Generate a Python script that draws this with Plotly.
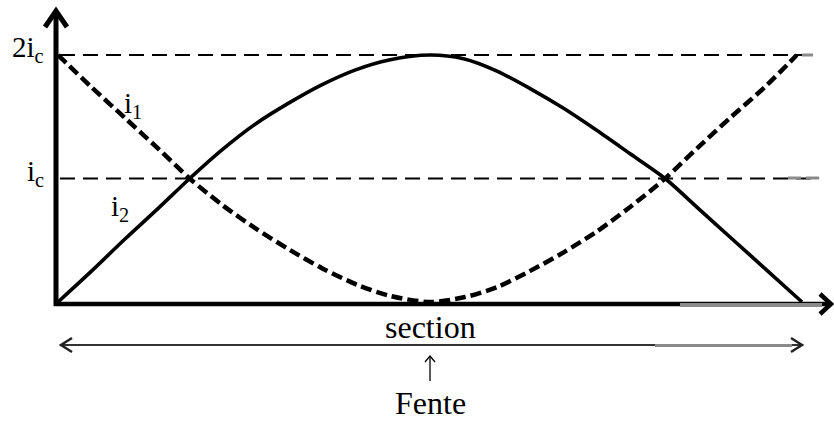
import plotly.graph_objects as go

# Normalised position along the section (0 = left edge, 1 = right edge)
x_i1 = [0.0, 0.045, 0.090, 0.135, 0.177, 0.222, 0.267, 0.312, 0.356, 0.402,
        0.446, 0.500, 0.547, 0.590, 0.634, 0.679, 0.724, 0.769, 0.816, 0.860,
        0.905, 0.950, 0.993]
# Current i1 in units of ic
i1 = [2.00, 1.74, 1.49, 1.24, 1.00, 0.78, 0.59, 0.42, 0.27, 0.14,
      0.05, 0.00, 0.04, 0.12, 0.25, 0.40, 0.57, 0.77, 1.00, 1.25,
      1.50, 1.74, 2.00]

x_i2 = [0.0, 0.045, 0.090, 0.135, 0.177, 0.220, 0.265, 0.310, 0.355, 0.400,
        0.445, 0.500, 0.545, 0.590, 0.634, 0.679, 0.724, 0.769, 0.816, 0.862,
        0.908, 0.954, 1.0]
# Current i2 in units of ic
i2 = [0.00, 0.25, 0.51, 0.76, 1.00, 1.23, 1.44, 1.61, 1.76, 1.88,
      1.96, 2.00, 1.97, 1.87, 1.73, 1.57, 1.39, 1.20, 1.00, 0.75,
      0.50, 0.25, 0.00]

levels = [2, 1]
level_labels = ["2i<sub>c</sub>", "i<sub>c</sub>"]
level_ends = [1.015, 1.023]

W, H = 834, 421
PX_X = 744.0    # pixels per unit of section
PX_Y = 123.5    # pixels per ic
X0_PX, Y0_PX = 58, 302

x_range = [-X0_PX / PX_X, (W - X0_PX) / PX_X]
y_range = [-(H - Y0_PX) / PX_Y, Y0_PX / PX_Y]


def px(xp, yp):
    """Page position (pixels) -> data coordinates, for decorations."""
    return (xp - X0_PX) / PX_X, (Y0_PX - yp) / PX_Y


SERIF = "'Liberation Serif', 'Times New Roman', 'DejaVu Serif', serif"

fig = go.Figure()

# reference levels
for lv, xe in zip(levels, level_ends):
    fig.add_trace(go.Scatter(x=[px(60, 0)[0], xe], y=[lv, lv], mode="lines",
                             line=dict(color="black", width=2, dash="15px,8px"),
                             hoverinfo="skip", showlegend=False))

fig.add_trace(go.Scatter(x=x_i1, y=i1, mode="lines", line_shape="spline",
                         line=dict(color="black", width=4.5, dash="11px,5px",
                                   smoothing=0.8),
                         hoverinfo="skip", showlegend=False))
fig.add_trace(go.Scatter(x=x_i2, y=i2, mode="lines", line_shape="spline",
                         line=dict(color="black", width=3.6, smoothing=0.8),
                         hoverinfo="skip", showlegend=False))

shapes = []


def seg(p0, p1, width, color="black"):
    (x0, y0), (x1, y1) = px(*p0), px(*p1)
    shapes.append(dict(type="line", xref="x", yref="y", x0=x0, y0=y0,
                       x1=x1, y1=y1, line=dict(color=color, width=width)))


def chevron(a, tip, b, width, color="black"):
    pts = [px(*a), px(*tip), px(*b)]
    path = "M{},{} L{},{} L{},{}".format(*[v for p in pts for v in p])
    shapes.append(dict(type="path", xref="x", yref="y", path=path,
                       line=dict(color=color, width=width)))


# vertical axis
seg((56, 306), (56, 11), 5)
chevron((45, 27), (56, 11), (67, 27), 5)
# horizontal axis
seg((54, 304), (830, 304), 4.5)
seg((680, 305), (822, 305), 4, "#8a8a8a")
chevron((820, 294), (831, 304), (820, 314), 4.5)
# section span
seg((61, 345), (802, 345), 2, "#333333")
seg((655, 345.5), (792, 345.5), 3, "#8a8a8a")
chevron((72, 338), (61, 345), (72, 352), 2.5, "#222222")
chevron((791, 338), (802, 345), (791, 352), 2.5, "#222222")
# slit marker
seg((430, 381), (430, 356), 1.3)
chevron((425, 362), (430, 356), (435, 362), 1.3)
# faded dash ends
seg((788, 178), (801, 178), 3, "#8a8a8a")
seg((806, 178), (819, 178), 3, "#8a8a8a")
seg((802, 55), (813, 55), 3, "#8a8a8a")

annotations = []

# level labels
for lv, lab in zip(levels, level_labels):
    annotations.append(dict(x=px(46, 0)[0], y=lv + 6 / PX_Y, xref="x", yref="y",
                            text=lab, showarrow=False, xanchor="right",
                            yanchor="middle",
                            font=dict(family=SERIF, size=29, color="black")))

for (xp, yp), lab in [((133, 105), "i<sub>1</sub>"), ((120, 208), "i<sub>2</sub>")]:
    x, y = px(xp, yp)
    annotations.append(dict(x=x, y=y, xref="x", yref="y", text=lab,
                            showarrow=False,
                            font=dict(family=SERIF, size=29, color="black")))

for (xp, yp), lab in [((430, 327), "section"), ((430, 403), "Fente")]:
    x, y = px(xp, yp)
    annotations.append(dict(x=x, y=y, xref="x", yref="y", text=lab,
                            showarrow=False,
                            font=dict(family=SERIF, size=32, color="black")))

fig.update_layout(
    width=W, height=H, autosize=False,
    margin=dict(l=0, r=0, t=0, b=0, pad=0),
    paper_bgcolor="white", plot_bgcolor="white",
    xaxis=dict(range=x_range, visible=False, fixedrange=True),
    yaxis=dict(range=y_range, visible=False, fixedrange=True),
    annotations=annotations, shapes=shapes,
    showlegend=False,
)

fig.write_html("out.html")
